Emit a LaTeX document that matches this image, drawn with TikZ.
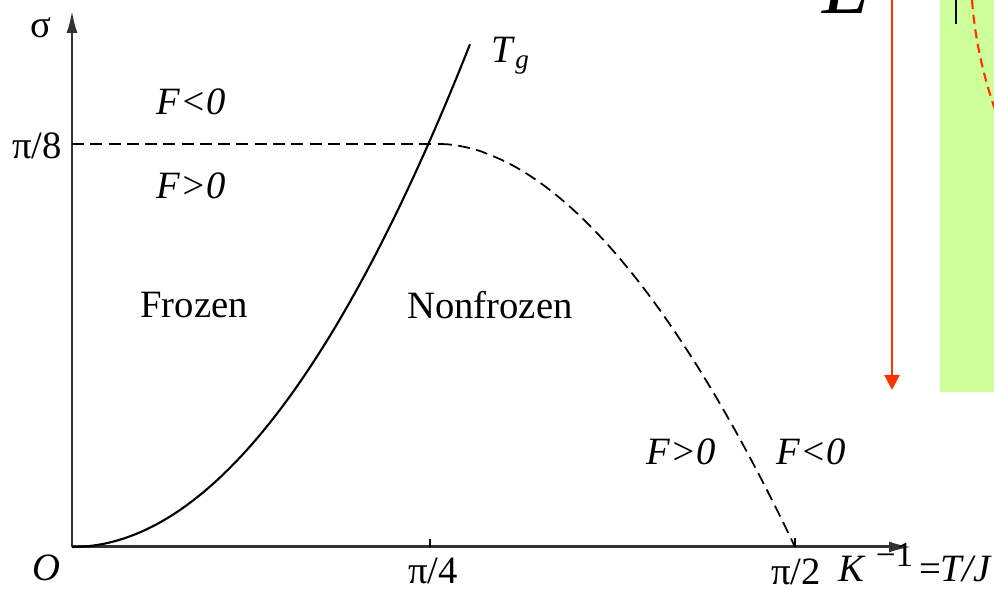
\documentclass[tikz,border=0pt]{standalone}
\usepackage{fontspec}
\setmainfont{Liberation Serif}
\usetikzlibrary{arrows.meta}

\definecolor{slidegreen}{RGB}{204,255,153}
\definecolor{slidered}{RGB}{255,51,0}
\definecolor{axisgray}{RGB}{50,50,50}

\begin{document}
\begin{tikzpicture}[
  x=0.1mm, y=-0.1mm,
  every node/.style={font=\fontsize{11pt}{13pt}\selectfont, inner sep=0pt},
  axis/.style={draw=axisgray, line width=0.85pt, -{Latex[length=2.3mm, width=1.1mm]}},
  border/.style={dash pattern=on 3.4pt off 1.8pt, line width=0.5pt},
  region label/.style={font=\fontsize{11pt}{13pt}\selectfont\itshape}
]
\useasboundingbox (0,0) rectangle (994,595);
\clip (0,0) rectangle (994,595);

% Slide leftovers on the right
\fill[slidegreen] (940,0) rectangle (994,392);
\draw[line width=0.6pt] (956,0) -- (956,24);
\draw[slidered, line width=0.6pt, dash pattern=on 2.6pt off 1.6pt]
  (972,0) .. controls (975,40) and (984,80) .. (998,118);
\node[font=\fontsize{24pt}{24pt}\selectfont\itshape, anchor=base] (L) at (846,14) {L};
\coordinate (rtop) at (892,0);
\coordinate (rend) at (892,390);
\draw[slidered, line width=0.7pt, -{Triangle[length=1.5mm, width=1.5mm]}] (rtop) -- (rend);

% Axes
\coordinate (O) at (72,547);
\coordinate (ytip) at (72,10);
\coordinate (xtip) at (912,547);
\draw[axis] (O) -- (ytip);
\draw[axis] (O) -- (xtip);

% Ticks
\coordinate (q4) at (430,547);
\coordinate (q2) at (795,547);
\coordinate (q8) at (72,144);
\draw[line width=0.6pt] (q4) -- ++(0,-8);
\draw[line width=0.6pt] (q2) -- ++(0,-9);

% Tg line
\draw[line width=0.6pt] plot[domain=0:398, samples=60, smooth]
  ({72+\x}, {547-0.00318*\x*\x});

% F = 0 line
\draw[border] (q8) -- (440,144);
\draw[border] plot[domain=0:355, samples=60, smooth]
  ({440+\x}, {547-403*(1-(\x/355)^1.85)});

% Labels
\node (sig) at (41,28) {σ};
\node (p8) at (37,146) {π/8};
\node[font=\fontsize{11pt}{13pt}\selectfont\itshape] (o) at (46,568) {O};
\node (p4) at (433,571) {π/4};
\node (p2) at (796,572) {π/2};
\node[anchor=base west] (kinv) at (838,582)
  {\textit{K}\hspace{0.25em}\raisebox{0.9ex}{\fontsize{10pt}{10pt}\selectfont −1}\hspace{0.15em}=\textit{T/J}};
\node[anchor=base west] (tg) at (491,63) {\textit{T}\textsubscript{\textit{g}}};

\node[region label] (fa) at (191,102) {F<0};
\node[region label] (fb) at (191,186) {F>0};
\node (frozen) at (194,305) {Frozen};
\node (nonfrozen) at (490,305) {Nonfrozen};
\node[region label] (fc) at (681,452) {F>0};
\node[region label] (fd) at (811,452) {F<0};
\end{tikzpicture}
\end{document}
